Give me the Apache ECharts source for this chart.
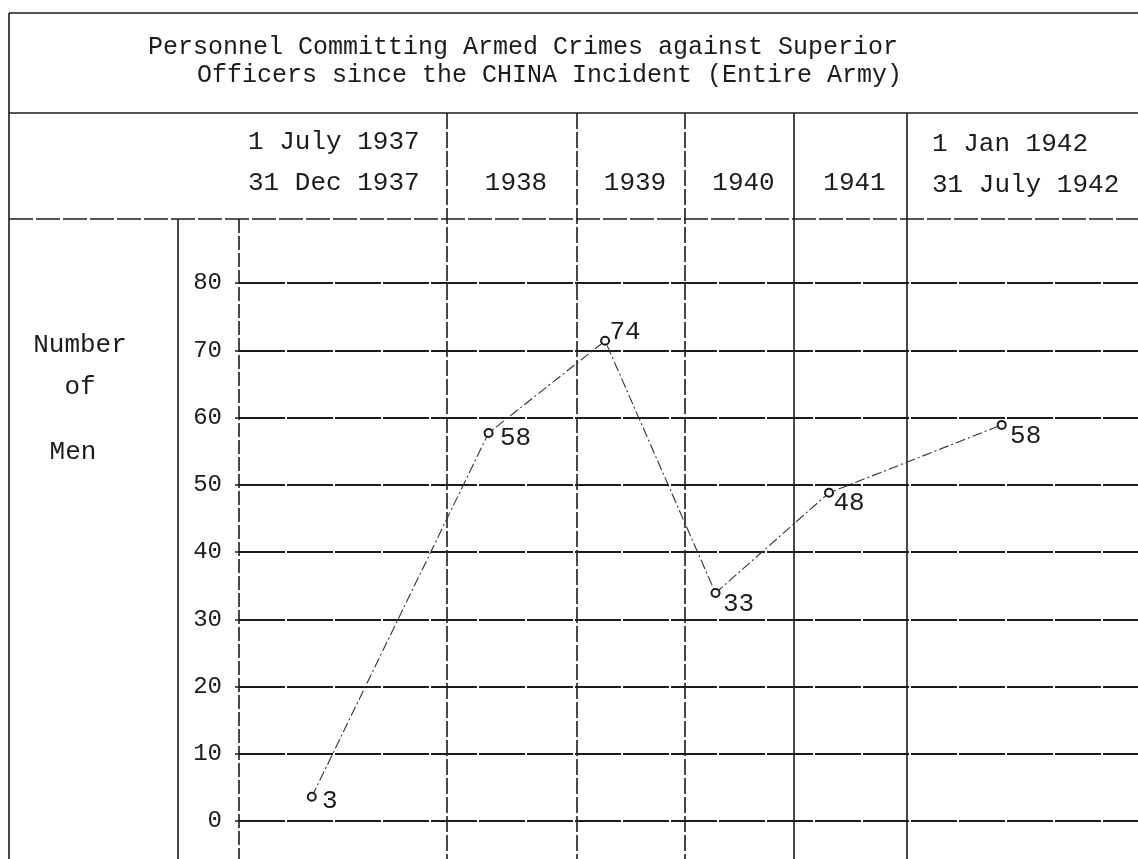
<!DOCTYPE html>
<html>
<head>
<meta charset="utf-8">
<script src="https://cdn.jsdelivr.net/npm/echarts@6/dist/echarts.min.js"></script>
<style>
    html, body { margin: 0; padding: 0; background: #fff; }
    #chart01 { width: 1138px; height: 859px; }
</style>
</head>
<body>
<div id="chart01"></div>
<script>
// 数据
var periods = ['1 July 1937\n31 Dec 1937', '1938', '1939', '1940', '1941', '1 Jan 1942\n31 July 1942'];
var printedValues = [3, 58, 74, 33, 48, 58];          // figures typed beside each point
var plottedValues = [3.6, 57.7, 71.4, 33.9, 48.8, 58.9]; // where the points sit on the grid
var pointPos = [0.35, 0.32, 0.26, 0.28, 0.31, 0.41];   // place of the point inside its period column
var yTicks = [0, 10, 20, 30, 40, 50, 60, 70, 80];

// 版面
var colWidths = [208, 130, 108, 109, 113, 231];
var gridLeft = 239;
var ink = '#1c1c1c';
var mono = '"Liberation Mono", "DejaVu Sans Mono", monospace';
var labelOffsets = [[18, 4], [27, 5], [20, -9], [23, 11], [20, 10], [24, 11]];

chart01();

function colEdges() {
    var arr = [0];
    for (let i = 0; i < colWidths.length; i++) {
        arr.push(arr[i] + colWidths[i]);
    }
    return arr;
}

function line(x1, y1, x2, y2, dash) {
    return {
        type: 'line',
        silent: true,
        z: 1,
        shape: { x1: x1, y1: y1, x2: x2, y2: y2 },
        style: { stroke: ink, lineWidth: 1.6, lineDash: dash || null }
    };
}

function text(str, x, y, size, align) {
    return {
        type: 'text',
        silent: true,
        x: x,
        y: y,
        style: {
            text: str,
            font: size + 'px ' + mono,
            fill: ink,
            align: align || 'center',
            verticalAlign: 'middle',
            lineHeight: 41
        }
    };
}

function chart01() {
    var chartDom = document.getElementById('chart01');
    var myChart = echarts.init(chartDom, null, { renderer: 'canvas' });
    var edges = colEdges();
    var total = edges[edges.length - 1];

    // 点的数据
    var points = [];
    for (let i = 0; i < plottedValues.length; i++) {
        points.push({
            value: [edges[i] + pointPos[i] * colWidths[i], plottedValues[i]],
            label: { offset: labelOffsets[i] }
        });
    }

    // 表格线
    var graphics = [
        line(9, 13, 1138, 13),
        line(9, 113, 1138, 113),
        line(9, 219, 1138, 219, [24, 3]),
        line(9, 13, 9, 859),
        line(178, 219, 178, 859),
        line(gridLeft, 219, gridLeft, 859, [14, 3])
    ];
    var dashed = [true, true, true, false, false];
    for (let i = 1; i < edges.length - 1; i++) {
        var x = gridLeft + edges[i];
        graphics.push(line(x, 113, x, 859, dashed[i - 1] ? [16, 3] : null));
    }

    // 标题
    graphics.push(text('Personnel Committing Armed Crimes against Superior', 148, 47, 25, 'left'));
    graphics.push(text('Officers since the CHINA Incident (Entire Army)', 197, 75, 25, 'left'));

    // 表头
    for (let i = 0; i < periods.length; i++) {
        var left = gridLeft + edges[i];
        if (periods[i].indexOf('\n') > -1) {
            var pad = i === 0 ? 9 : 25;
            graphics.push(text(periods[i], left + pad, i === 0 ? 163 : 165, 26, 'left'));
        } else {
            graphics.push(text(periods[i], left + colWidths[i] / 2 + 4, 183, 26, 'center'));
        }
    }

    // 纵轴名
    graphics.push(text('Number', 80, 345, 26));
    graphics.push(text('of', 80, 387, 26));
    graphics.push(text('Men', 73, 452, 26));

    var option = {
        backgroundColor: '#ffffff',
        animation: false,
        grid: {
            left: gridLeft,
            right: 0,
            top: 283,
            bottom: 38
        },
        xAxis: {
            type: 'value',
            min: 0,
            max: total,
            show: false
        },
        yAxis: {
            type: 'value',
            min: yTicks[0],
            max: yTicks[yTicks.length - 1],
            interval: 10,
            axisLine: { show: false },
            axisTick: {
                show: true,
                length: 4,
                lineStyle: { color: ink, width: 1.5 }
            },
            axisLabel: {
                margin: 17,
                color: ink,
                fontSize: 24,
                fontFamily: mono
            },
            splitLine: {
                show: true,
                lineStyle: { color: ink, width: 1.8, type: [46, 2] }
            }
        },
        graphic: graphics,
        series: [
            {
                type: 'line',
                data: points,
                symbol: 'emptyCircle',
                symbolSize: 8,
                z: 5,
                itemStyle: { color: ink, borderColor: ink, borderWidth: 1.3 },
                lineStyle: { color: '#333', width: 1.1, type: [10, 3, 2, 3] },
                label: {
                    show: true,
                    position: 'inside',
                    fontSize: 26,
                    fontFamily: mono,
                    color: ink,
                    formatter: function (p) {
                        return printedValues[p.dataIndex];
                    }
                }
            }
        ]
    };

    option && myChart.setOption(option);
}
</script>
</body>
</html>
